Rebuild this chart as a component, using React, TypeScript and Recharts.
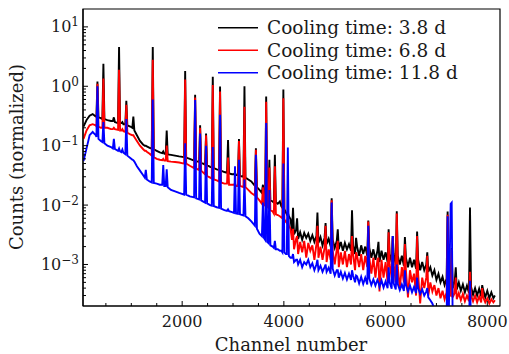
import React from 'react';
import { LineChart, Line, XAxis, YAxis, ReferenceArea, Legend } from 'recharts';

const FONT = '"DejaVu Serif", serif';

// channel grid (shared by the three spectra)
const channels = [
  60, 120, 180, 240, 300, 314, 334, 354, 400, 431,
  451, 471, 530, 600, 637, 657, 677, 739, 759, 779,
  804, 824, 844, 882, 902, 922, 980, 1020, 1040, 1060,
  1110, 1170, 1230, 1265, 1285, 1305, 1360, 1402, 1422, 1442,
  1500, 1560, 1608, 1628, 1648, 1676, 1696, 1716, 1780, 1860,
  1940, 2039, 2059, 2079, 2150, 2235, 2255, 2275, 2333, 2353,
  2373, 2450, 2470, 2490, 2550, 2582, 2602, 2622, 2680, 2725,
  2745, 2765, 2830, 2882, 2902, 2922, 2980, 3019, 3039, 3059,
  3097, 3117, 3137, 3205, 3225, 3245, 3300, 3360, 3430, 3450,
  3470, 3520, 3568, 3588, 3608, 3632, 3652, 3672, 3695, 3715,
  3735, 3780, 3803, 3823, 3843, 3880, 3921, 3950, 3970, 3990,
  4010, 4040, 4058, 4078, 4098, 4130,
  4160, 4180, 4200, 4240, 4260, 4280, 4320, 4360, 4400, 4440,
  4480, 4520, 4560, 4600, 4640, 4660, 4680, 4720, 4760, 4800,
  4820, 4840, 4880, 4920, 4940, 4960, 5000, 5040, 5060, 5080,
  5120, 5160, 5200, 5240, 5280, 5320, 5340, 5360, 5400, 5420,
  5440, 5480, 5520, 5560, 5600, 5640, 5660, 5680, 5720, 5760,
  5800, 5840, 5860, 5880, 5920, 5960, 6000, 6040, 6060, 6080,
  6120, 6140, 6160, 6200, 6220, 6240, 6280, 6320, 6360, 6380,
  6400, 6440, 6480, 6520, 6560, 6600, 6620, 6640, 6680, 6720,
  6760, 6800, 6820, 6840, 6880, 6920, 6960, 7000, 7040, 7080,
  7120, 7160, 7200, 7220, 7240, 7280, 7300, 7320, 7360, 7380,
  7400, 7440, 7480, 7520, 7560, 7600, 7640, 7660, 7680, 7720,
  7760, 7800, 7840, 7880, 7900, 7920, 7960, 8000, 8040, 8080,
  8120, 8150,
];

// Cooling time 3.8 d (black)
const cooling38 = [
  0.21, 0.27, 0.32, 0.34, 0.31, 0.31, 1.2, 0.3, 0.29, 0.28,
  2.4, 0.28, 0.27, 0.26, 0.26, 0.3, 0.25, 0.24, 4.6, 0.24,
  0.24, 0.25, 0.23, 0.23, 0.57, 0.22, 0.21, 0.2, 0.31, 0.18,
  0.15, 0.12, 0.105, 0.1, 0.1, 0.097, 0.092, 0.089, 4.6, 0.087,
  0.082, 0.077, 0.075, 0.08, 0.073, 0.072, 0.18, 0.071, 0.07, 0.068,
  0.066, 0.064, 1.8, 0.063, 0.06, 0.056, 0.72, 0.055, 0.053, 0.22,
  0.052, 0.048, 0.16, 0.047, 0.044, 0.043, 1.45, 0.042, 0.04, 0.039,
  0.99, 0.038, 0.036, 0.035, 0.125, 0.034, 0.033, 0.033, 0.035, 0.032,
  0.032, 0.13, 0.031, 0.03, 1.0, 0.029, 0.027, 0.025, 0.021, 0.09,
  0.02, 0.018, 0.016, 0.022, 0.015, 0.0145, 0.67, 0.014, 0.013, 0.058,
  0.012, 0.0115, 0.011, 0.07, 0.011, 0.0105, 0.0115, 0.0095, 0.009, 0.88,
  0.0085, 0.0075, 0.007, 0.0075, 0.0065, 0.0058,
  0.0036, 0.009, 0.0032, 0.0038, 0.006, 0.0027, 0.0035, 0.0026, 0.0034, 0.0028,
  0.0033, 0.0025, 0.0031, 0.0024, 0.003, 0.0075, 0.0023, 0.0029, 0.0021, 0.0028,
  0.005, 0.0022, 0.0027, 0.002, 0.013, 0.0026, 0.0019, 0.0025, 0.0039, 0.0018,
  0.0024, 0.0017, 0.0023, 0.0018, 0.0022, 0.0017, 0.0082, 0.0021, 0.0015, 0.0028,
  0.002, 0.0014, 0.0021, 0.0015, 0.002, 0.0014, 0.0055, 0.0019, 0.0013, 0.0018,
  0.0012, 0.0017, 0.0024, 0.0011, 0.0017, 0.0012, 0.0016, 0.0011, 0.0039, 0.0015,
  0.0011, 0.003, 0.0015, 0.001, 0.0079, 0.0014, 0.001, 0.0014, 0.00095, 0.0029,
  0.0013, 0.0009, 0.0013, 0.0009, 0.0012, 0.00085, 0.0036, 0.0012, 0.0008, 0.0011,
  0.0008, 0.001, 0.0016, 0.00075, 0.0009, 0.00065, 0.0008, 0.00055, 0.0007, 0.0005,
  0.00062, 0.00045, 0.00058, 0.0078, 0.0005, 0.00045, 0.0019, 0.0004, 0.00052, 0.0009,
  0.00038, 0.0005, 0.00036, 0.00046, 0.00034, 0.00044, 0.00033, 0.0091, 0.00042, 0.00031,
  0.0004, 0.0003, 0.00039, 0.00029, 0.00045, 0.00037, 0.00028, 0.00036, 0.00027, 0.00034,
  0.00027, 0.0003,
];

// Cooling time 6.8 d (red)
const cooling68 = [
  0.13, 0.18, 0.22, 0.23, 0.22, 0.21, 1.1, 0.21, 0.2, 0.2,
  1.35, 0.2, 0.2, 0.19, 0.19, 0.2, 0.19, 0.185, 1.9, 0.18,
  0.18, 0.19, 0.175, 0.17, 0.49, 0.165, 0.155, 0.15, 0.15, 0.14,
  0.12, 0.1, 0.088, 0.082, 0.082, 0.079, 0.073, 0.068, 2.8, 0.064,
  0.06, 0.058, 0.057, 0.06, 0.056, 0.056, 0.1, 0.055, 0.054, 0.053,
  0.052, 0.05, 1.3, 0.05, 0.046, 0.042, 0.65, 0.041, 0.039, 0.2,
  0.038, 0.033, 0.15, 0.031, 0.029, 0.028, 1.05, 0.027, 0.026, 0.025,
  0.82, 0.024, 0.023, 0.023, 0.063, 0.022, 0.022, 0.022, 0.023, 0.021,
  0.021, 0.12, 0.021, 0.02, 0.45, 0.02, 0.018, 0.016, 0.0145, 0.085,
  0.0135, 0.012, 0.0105, 0.02, 0.01, 0.0098, 0.55, 0.0095, 0.009, 0.043,
  0.0082, 0.0078, 0.0072, 0.045, 0.007, 0.0068, 0.0065, 0.0062, 0.006, 0.63,
  0.0058, 0.0052, 0.005, 0.006, 0.0045, 0.004,
  0.0026, 0.004, 0.0018, 0.0027, 0.003, 0.0015, 0.0024, 0.0016, 0.0025, 0.0013,
  0.0023, 0.0017, 0.0021, 0.0012, 0.0022, 0.0045, 0.0013, 0.002, 0.0012, 0.0019,
  0.0045, 0.0011, 0.0018, 0.0012, 0.012, 0.0017, 0.001, 0.0018, 0.0025, 0.0009,
  0.0016, 0.001, 0.0017, 0.0009, 0.0015, 0.001, 0.003, 0.0015, 0.0008, 0.0016,
  0.0014, 0.0009, 0.0015, 0.0008, 0.0014, 0.0009, 0.0053, 0.0013, 0.0007, 0.0013,
  0.0006, 0.0012, 0.0013, 0.00035, 0.0012, 0.0006, 0.0011, 0.0005, 0.0035, 0.001,
  0.0006, 0.0028, 0.001, 0.0005, 0.0072, 0.0009, 0.0004, 0.0009, 0.0005, 0.0022,
  0.0008, 0.00028, 0.0008, 0.0005, 0.0007, 0.0003, 0.003, 0.0007, 0.00022, 0.0006,
  0.0004, 0.0006, 0.0014, 0.0003, 0.0005, 0.00035, 0.00045, 0.0003, 0.0004, 0.00027,
  0.00036, 0.00026, 0.00034, 0.0069, 0.00032, 0.0003, 0.0018, 0.00028, 0.00033, 0.0006,
  0.00026, 0.00033, 0.00025, 0.00032, 0.00024, 0.0003, 0.00024, 0.00075, 0.0003, 0.00024,
  0.0003, 0.00023, 0.00029, 0.00023, 0.0004, 0.00028, 0.00023, 0.00027, 0.00022, 0.00026,
  0.00023, 0.00025,
];

// Cooling time 11.8 d (blue)
const cooling118 = [
  0.055, 0.09, 0.15, 0.17, 0.15, 0.14, 1.0, 0.13, 0.12, 0.115,
  0.25, 0.11, 0.1, 0.095, 0.09, 0.13, 0.088, 0.082, 0.09, 0.08,
  0.078, 0.086, 0.076, 0.072, 0.28, 0.068, 0.062, 0.058, 0.057, 0.054,
  0.045, 0.038, 0.032, 0.029, 0.039, 0.027, 0.025, 0.024, 0.6, 0.0235,
  0.023, 0.022, 0.022, 0.047, 0.021, 0.021, 0.04, 0.02, 0.018, 0.017,
  0.016, 0.015, 0.11, 0.015, 0.014, 0.0135, 0.59, 0.013, 0.0125, 0.16,
  0.012, 0.011, 0.1, 0.0107, 0.01, 0.0098, 0.095, 0.0096, 0.0092, 0.009,
  0.33, 0.0087, 0.0082, 0.008, 0.0085, 0.0079, 0.0076, 0.0074, 0.045, 0.0072,
  0.0071, 0.058, 0.007, 0.0067, 0.027, 0.0065, 0.006, 0.0053, 0.0045, 0.07,
  0.004, 0.0033, 0.003, 0.011, 0.0028, 0.0026, 0.24, 0.0024, 0.0023, 0.018,
  0.0021, 0.002, 0.0019, 0.0025, 0.0018, 0.0018, 0.0017, 0.0017, 0.0016, 0.05,
  0.0016, 0.0015, 0.0015, 0.093, 0.0014, 0.0013,
  0.0013, 0.0015, 0.0011, 0.0012, 0.0012, 0.001, 0.0012, 0.0009, 0.0011, 0.001,
  0.0012, 0.0009, 0.00105, 0.0008, 0.001, 0.0012, 0.0008, 0.00095, 0.00075, 0.0009,
  0.001, 0.00075, 0.00088, 0.0007, 0.011, 0.00085, 0.00065, 0.0008, 0.0008, 0.0006,
  0.00075, 0.00058, 0.00072, 0.00056, 0.0007, 0.00055, 0.0008, 0.00066, 0.0005, 0.00065,
  0.00063, 0.00048, 0.00062, 0.00047, 0.0006, 0.00046, 0.0045, 0.00058, 0.00045, 0.00056,
  0.00044, 0.00055, 0.0005, 0.00042, 0.00054, 0.00041, 0.00052, 0.0004, 0.0009, 0.0005,
  0.00039, 0.003, 0.00048, 0.00038, 0.001, 0.00047, 0.00037, 0.00046, 0.00036, 0.0008,
  0.00045, 0.00035, 0.00044, 0.00034, 0.00042, 0.00033, 0.0006, 0.0004, 0.00032, 0.00038,
  0.0003, 0.00035, 0.0004, 0.00028, 0.00025, 0.00022, 0.00018, 0.00012, 0.0001, 0.0001,
  0.0001, 0.0001, 0.0001, 0.0065, 0.0001, 0.0105, 0.011, 0.0001, 0.0001, 0.0001,
  0.0001, 0.0001, 0.0001, 0.0001, 0.0001, 0.0001, 0.0001, 0.00053, 0.0001, 0.0001,
  0.0001, 0.0001, 0.0001, 0.0001, 0.0001, 0.0001, 0.0001, 0.0001, 0.0001, 0.0001,
  0.0001, 0.0001,
];

const seriesNames = ['Cooling time: 3.8 d', 'Cooling time: 6.8 d', 'Cooling time: 11.8 d'];
const seriesColors = ['#000000', '#ff0000', '#0000ff'];
const seriesKeys = ['c38', 'c68', 'c118'];

const xTicks = [500, 1000, 1500, 2000, 2500, 3000, 3500, 4000, 4500, 5000, 5500, 6000, 6500, 7000, 7500, 8000];
const xLabeled = [2000, 4000, 6000, 8000];
const yTicks = [
  0.0003, 0.0004, 0.0005, 0.0006, 0.0007, 0.0008, 0.0009,
  0.001, 0.002, 0.003, 0.004, 0.005, 0.006, 0.007, 0.008, 0.009,
  0.01, 0.02, 0.03, 0.04, 0.05, 0.06, 0.07, 0.08, 0.09,
  0.1, 0.2, 0.3, 0.4, 0.5, 0.6, 0.7, 0.8, 0.9,
  1, 2, 3, 4, 5, 6, 7, 8, 9,
  10,
];
const yLabeled = [0.001, 0.01, 0.1, 1, 10];

const data = channels.map((ch, i) => ({
  ch,
  c38: cooling38[i],
  c68: cooling68[i],
  c118: cooling118[i],
}));

const XTick = (props: any) => {
  const { x, y, payload } = props;
  const v = payload.value;
  const major = xLabeled.includes(v);
  return (
    <g>
      <line x1={x} x2={x} y1={y} y2={y - (major ? 5 : 3)} stroke="#000" strokeWidth={1} />
      {major && (
        <text x={x} y={y + 21} textAnchor="middle" fontSize={16} fontFamily={FONT} fill="#1a1a1a">
          {v}
        </text>
      )}
    </g>
  );
};

const YTick = (props: any) => {
  const { x, y, payload } = props;
  const v = payload.value;
  const major = yLabeled.some((t) => Math.abs(t - v) < t * 1e-6);
  const exp = Math.round(Math.log10(v));
  return (
    <g>
      <line x1={x} x2={x + (major ? 5 : 3)} y1={y} y2={y} stroke="#000" strokeWidth={1} />
      {major && (
        <text x={x - 4} y={y + 5.5} textAnchor="end" fontSize={16} fontFamily={FONT} fill="#1a1a1a">
          10
          <tspan dy={-6} fontSize={12}>{exp < 0 ? '\u2212' + -exp : String(exp)}</tspan>
        </text>
      )}
    </g>
  );
};

const LegendBox = () => (
  <svg width={290} height={72} style={{ display: 'block' }}>
    {seriesNames.map((name, i) => (
      <g key={name}>
        <line x1={0} x2={40} y1={13.7 + i * 22.5} y2={13.7 + i * 22.5} stroke={seriesColors[i]} strokeWidth={1.5} />
        <text x={49} y={20.2 + i * 22.5} fontSize={18.5} fontFamily={FONT} fill="#1a1a1a">
          {name}
        </text>
      </g>
    ))}
  </svg>
);

export default function App() {
  return (
    <div style={{ position: 'absolute', left: 0, top: 0, width: 509, height: 354, background: '#fff' }}>
      <LineChart width={509} height={354} data={data} margin={{ top: 9, right: 9, bottom: 0, left: 0 }}>
        <XAxis
          dataKey="ch"
          type="number"
          domain={[50, 8250]}
          allowDataOverflow
          ticks={xTicks}
          interval={0}
          tickSize={0}
          tickMargin={0}
          tickLine={false}
          tick={(p: any) => <XTick {...p} />}
          axisLine={{ stroke: '#000', strokeWidth: 1.2 }}
          height={48}
          label={() => (
            <text x={291} y={351} textAnchor="middle" fontSize={18} fontFamily={FONT} fill="#1a1a1a">
              Channel number
            </text>
          )}
        />
        <YAxis
          type="number"
          scale="log"
          domain={[0.0002, 20]}
          allowDataOverflow
          ticks={yTicks}
          interval={0}
          tickSize={0}
          tickMargin={0}
          tickLine={false}
          tick={(p: any) => <YTick {...p} />}
          axisLine={{ stroke: '#000', strokeWidth: 1.2 }}
          width={83}
          label={() => (
            <text
              x={23}
              y={157}
              transform="rotate(-90 23 157)"
              textAnchor="middle"
              fontSize={18}
              fontFamily={FONT}
              fill="#1a1a1a"
            >
              Counts (normalized)
            </text>
          )}
        />
        {seriesKeys.map((k, i) => (
          <Line
            key={k}
            dataKey={k}
            name={seriesNames[i]}
            stroke={seriesColors[i]}
            strokeWidth={1.9}
            dot={false}
            activeDot={false}
            isAnimationActive={false}
            type="linear"
          />
        ))}
        <ReferenceArea x1={50} x2={8250} y1={0.0002} y2={20} fill="none" stroke="#000" strokeWidth={1.2} ifOverflow="visible" />
        <Legend
          layout="vertical"
          align="center"
          verticalAlign="middle"
          wrapperStyle={{ position: 'absolute', left: 218, top: 14, width: 290, height: 72 }}
          content={() => <LegendBox />}
        />
      </LineChart>
    </div>
  );
}
